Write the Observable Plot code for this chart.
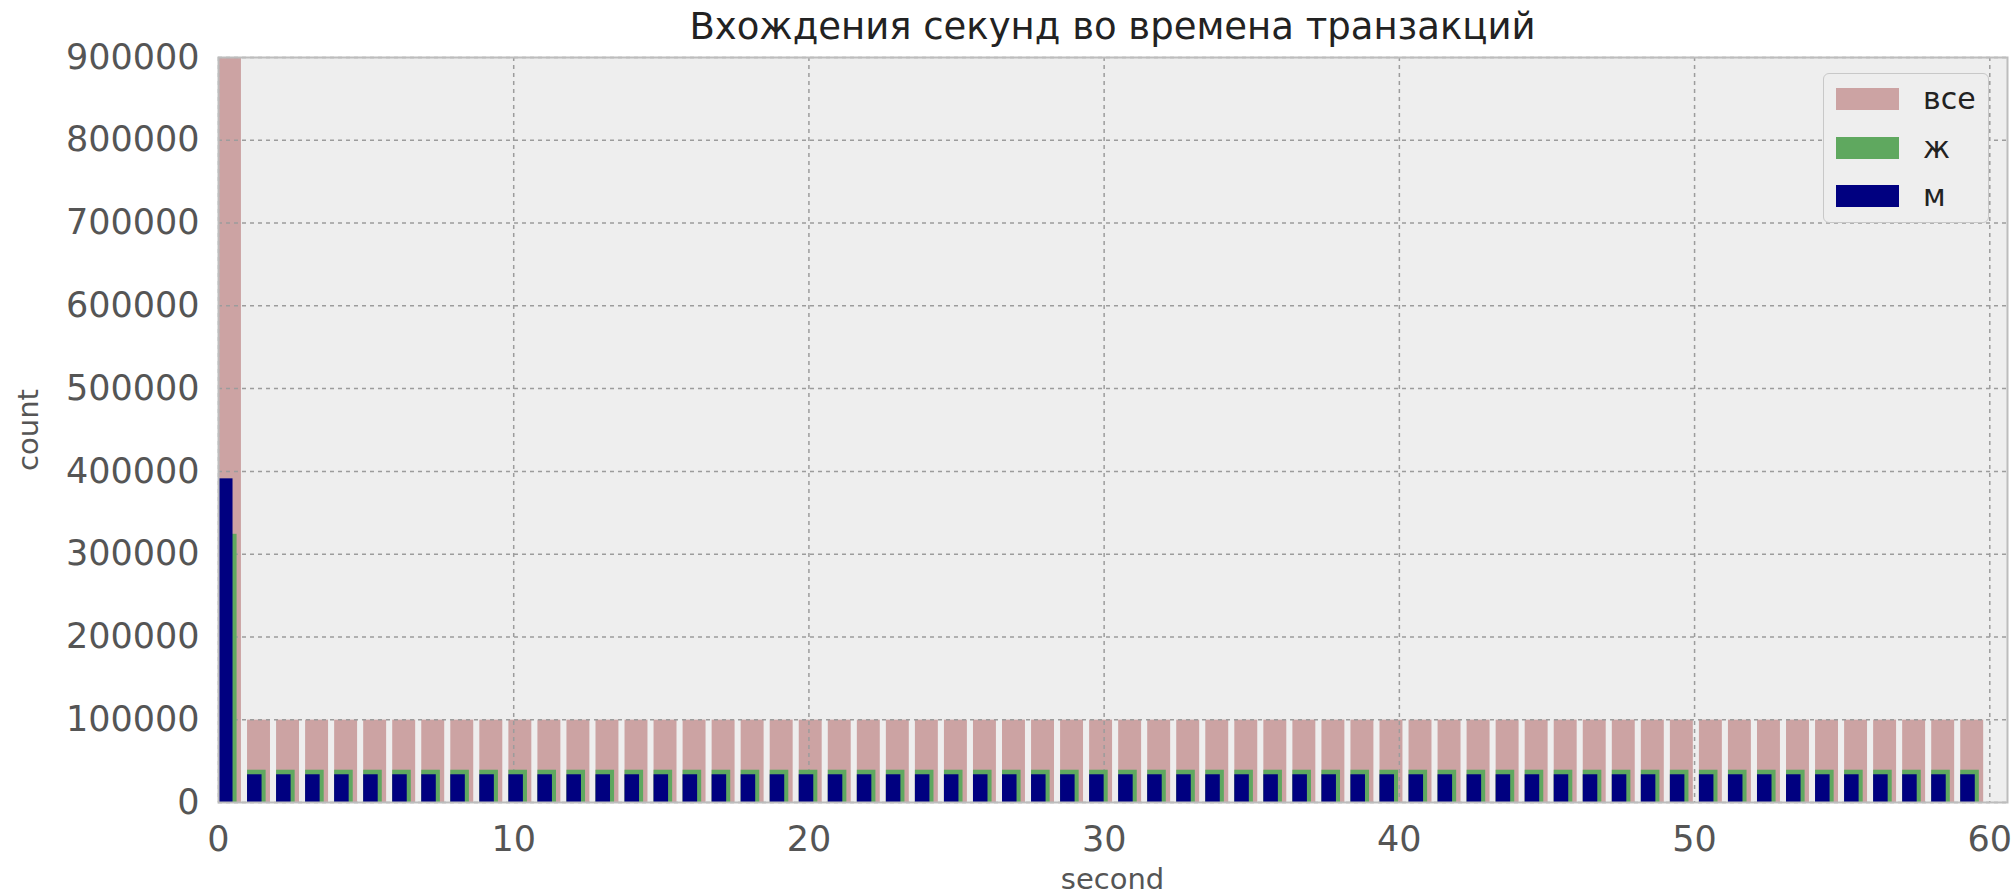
<!DOCTYPE html>
<html>
<head>
<meta charset="utf-8">
<script src="https://cdn.jsdelivr.net/npm/d3@7"></script>
<script src="https://cdn.jsdelivr.net/npm/@observablehq/plot@0.6"></script>
<style>
  body { margin: 0; background: white; font-family: "DejaVu Sans", sans-serif; }
  #wrap { position: relative; width: 2013px; height: 895px; }
  #wrap svg { position: absolute; left: 0; top: 0; }
  .title { position: absolute; left: 218px; width: 1789px; top: 5px; text-align: center; font-size: 37px; color: #222; white-space: nowrap; }
  .xlabel { position: absolute; left: 218px; width: 1789px; top: 862px; text-align: center; font-size: 29px; color: #555; }
  .ylabel { position: absolute; left: 28px; top: 430px; font-size: 29px; color: #555; transform: translate(-50%, -50%) rotate(-90deg); white-space: nowrap; }
  .legend { position: absolute; left: 1823px; top: 73px; width: 166px; height: 150px; box-sizing: border-box; border: 1.5px solid #c8c8c8; border-radius: 6px; background: #eeeeee; }
  .legend .row { position: absolute; left: 12px; height: 24px; display: flex; align-items: center; }
  .legend .sw { width: 63px; height: 22px; box-sizing: border-box; }
  .legend .lb { margin-left: 24px; font-size: 30px; color: #222; line-height: 24px; }
</style>
</head>
<body>
<div id="wrap"></div>
<script>
// seconds (histogram bins, 61 bins spanning 0..60)
const seconds = [0,1,2,3,4,5,6,7,8,9,10,11,12,13,14,15,16,17,18,19,20,21,22,23,24,25,26,27,28,29,30,31,32,33,34,35,36,37,38,39,40,41,42,43,44,45,46,47,48,49,50,51,52,53,54,55,56,57,58,59,60];
// counts
const countAll = [899000,
  99500,99500,99500,99500,99500,99500,99500,99500,99500,99500,
  99500,99500,99500,99500,99500,99500,99500,99500,99500,99500,
  99500,99500,99500,99500,99500,99500,99500,99500,99500,99500,
  99500,99500,99500,99500,99500,99500,99500,99500,99500,99500,
  99500,99500,99500,99500,99500,99500,99500,99500,99500,99500,
  99500,99500,99500,99500,99500,99500,99500,99500,99500,99500];
const countF = [324000,
  39000,39000,39000,39000,39000,39000,39000,39000,39000,39000,
  39000,39000,39000,39000,39000,39000,39000,39000,39000,39000,
  39000,39000,39000,39000,39000,39000,39000,39000,39000,39000,
  39000,39000,39000,39000,39000,39000,39000,39000,39000,39000,
  39000,39000,39000,39000,39000,39000,39000,39000,39000,39000,
  39000,39000,39000,39000,39000,39000,39000,39000,39000,39000];
const countM = [391000,
  33500,33500,33500,33500,33500,33500,33500,33500,33500,33500,
  33500,33500,33500,33500,33500,33500,33500,33500,33500,33500,
  33500,33500,33500,33500,33500,33500,33500,33500,33500,33500,
  33500,33500,33500,33500,33500,33500,33500,33500,33500,33500,
  33500,33500,33500,33500,33500,33500,33500,33500,33500,33500,
  33500,33500,33500,33500,33500,33500,33500,33500,33500,33500];
const xTicks = [0, 10, 20, 30, 40, 50, 60];
const yTicks = [0, 100000, 200000, 300000, 400000, 500000, 600000, 700000, 800000, 900000];
const seriesNames = ["все", "ж", "м"];
const seriesColors = ["#cca3a3", "#5fa85f", "#000080"];
const titleText = "Вхождения секунд во времена транзакций";

const binWidth = 60 / 61;
const rows = seconds.map((s, i) => ({
  x1: s * binWidth,
  all: countAll[i], f: countF[i], m: countM[i]
}));

const grid = {stroke: "#9c9c9c", strokeOpacity: 1, strokeWidth: 1.5, strokeDasharray: "4,4"};

const chart = Plot.plot({
  width: 2013, height: 895,
  marginLeft: 218, marginRight: 6, marginTop: 57, marginBottom: 93,
  x: {domain: [0, 60.6]},
  y: {domain: [0, 900000]},
  style: {fontFamily: "DejaVu Sans", background: "transparent"},
  marks: [
    Plot.frame({fill: "#eeeeee", stroke: null}),
    Plot.rect(rows, {x1: "x1", x2: d => d.x1 + 0.79 * binWidth, y1: () => 0, y2: "all", fill: seriesColors[0]}),
    Plot.gridX({ticks: xTicks, ...grid}),
    Plot.gridY({ticks: yTicks, ...grid}),
    Plot.rect(rows, {x1: "x1", x2: d => d.x1 + 0.64 * binWidth, y1: () => 0, y2: "f", fill: seriesColors[1]}),
    Plot.rect(rows, {x1: "x1", x2: d => d.x1 + 0.5 * binWidth, y1: () => 0, y2: "m", fill: seriesColors[2]}),
    Plot.frame({stroke: "#bdbdbd", strokeWidth: 2}),
    Plot.axisX({ticks: xTicks, tickSize: 0, tickPadding: 24, fontSize: 35, color: "#555", label: null}),
    Plot.axisY({ticks: yTicks, tickSize: 0, tickPadding: 19, fontSize: 35, color: "#555", tickFormat: d3.format("d"), label: null})
  ]
});

const wrap = document.getElementById("wrap");
wrap.appendChild(chart);

const t = document.createElement("div"); t.className = "title"; t.textContent = titleText; wrap.appendChild(t);
const xl = document.createElement("div"); xl.className = "xlabel"; xl.textContent = "second"; wrap.appendChild(xl);
const yl = document.createElement("div"); yl.className = "ylabel"; yl.textContent = "count"; wrap.appendChild(yl);

const lg = document.createElement("div"); lg.className = "legend";
seriesNames.forEach((name, i) => {
  const r = document.createElement("div"); r.className = "row";
  r.style.top = (13 + i * 48.5) + "px";
  const sw = document.createElement("div"); sw.className = "sw"; sw.style.background = seriesColors[i];
  const lb = document.createElement("div"); lb.className = "lb"; lb.textContent = name;
  r.appendChild(sw); r.appendChild(lb); lg.appendChild(r);
});
wrap.appendChild(lg);
</script>
</body>
</html>
